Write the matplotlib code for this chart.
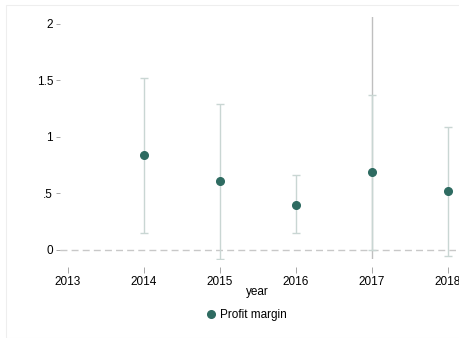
import matplotlib.pyplot as plt
from matplotlib.lines import Line2D

# profit margin by year, with confidence bounds
years = [2014, 2015, 2016, 2017, 2018]
margin = [0.84, 0.61, 0.40, 0.69, 0.52]
lower = [0.15, -0.08, 0.15, 0.00, -0.05]
upper = [1.52, 1.29, 0.66, 1.37, 1.09]
# 2017 has a second, much wider interval that runs off the plot
wide_year = [2017]
wide_lower = [-0.5]
wide_upper = [2.6]

xticks = [2013, 2014, 2015, 2016, 2017, 2018]
yticks = [0, 0.5, 1, 1.5, 2]
ylabels = ['0', '.5', '1', '1.5', '2']

plt.rcParams['font.family'] = ['Liberation Sans', 'DejaVu Sans']

fig = plt.figure(figsize=(4.6, 3.38), dpi=100)
fig.patch.set_facecolor('white')
# thin frame round the whole graph
fig.add_artist(plt.Rectangle((6 / 460, 0), 454 / 460, 1 - 5 / 338, transform=fig.transFigure,
                             fill=False, edgecolor='#eeeeee', linewidth=0.8))

ax = fig.add_axes([60 / 460, 1 - 259 / 338, (455.6 - 60) / 460, (259 - 17) / 338])
ax.set_xlim(2012.9, 2018.1)
ax.set_ylim(-0.08, 2.06)

bar_col = '#c9d6d3'
dot_col = '#2e6b61'

ax.axhline(0, color='#c8c8c8', linestyle=(0, (5, 3)), linewidth=1.0, zorder=1)

ax.vlines(wide_year, wide_lower, wide_upper, color='#bfbfbf', linewidth=1.0, zorder=2)
ax.errorbar(years, margin,
            yerr=[[m - l for m, l in zip(margin, lower)], [u - m for m, u in zip(margin, upper)]],
            fmt='none', ecolor=bar_col, elinewidth=1.0, capsize=3, capthick=1.0, zorder=3)
ax.plot(years, margin, 'o', color=dot_col, markersize=5.5, zorder=4)

for s in ax.spines.values():
    s.set_visible(False)
ax.spines['bottom'].set_position(('outward', 6))

ax.set_xticks(xticks)
ax.set_xticklabels([str(x) for x in xticks])
ax.set_yticks(yticks)
ax.set_yticklabels(ylabels)
ax.tick_params(axis='both', colors='#999999', labelcolor='black', labelsize=8.5, width=0.6)
ax.tick_params(axis='x', length=4, pad=2)
ax.tick_params(axis='y', length=3, pad=2)
ax.set_xlabel('year', fontsize=8.5, labelpad=-1)

handle = Line2D([], [], marker='o', linestyle='none', color=dot_col, markersize=5.5)
fig.legend([handle], ['Profit margin'], loc='center', bbox_to_anchor=(246 / 460, 1 - 315 / 338),
           frameon=False, fontsize=8.5, handletextpad=0.3, handlelength=1.0)

fig.savefig('out.png', dpi=100)
